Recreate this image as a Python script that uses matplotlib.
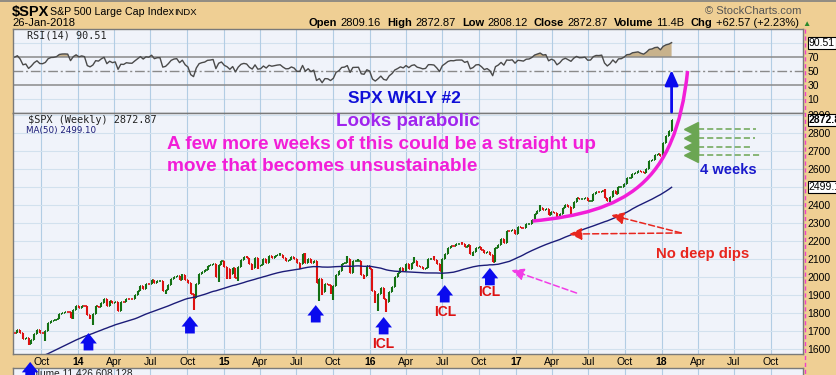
import numpy as np
import pandas as pd
import matplotlib
matplotlib.use("Agg")
import matplotlib.pyplot as plt
import matplotlib.dates as mdates
from matplotlib.path import Path
from matplotlib.patches import PathPatch
from matplotlib.lines import Line2D

plt.rcParams['font.family'] = ['Liberation Sans', 'DejaVu Sans']

# weekly closes before the visible window, only used to seed MA(50) and RSI(14)
warmup_closes = [1390.99, 1405.87, 1418.16, 1411.13, 1406.58, 1437.92, 1465.77, 1460.15, 1440.67,
                 1460.93, 1428.59, 1433.19, 1411.94, 1414.20, 1379.85, 1359.88, 1409.15, 1416.18,
                 1418.07, 1413.58, 1430.15, 1402.43, 1466.47, 1472.05, 1485.98, 1502.96, 1513.17,
                 1517.93, 1519.79, 1515.60, 1518.20, 1551.18, 1560.70, 1556.89, 1569.19, 1553.28,
                 1588.85, 1555.25, 1582.24, 1614.42, 1633.70, 1667.47, 1649.60, 1630.74, 1643.38,
                 1626.73, 1592.43, 1606.28, 1631.89, 1680.19, 1692.09]
first_week = '2012-08-03'

# visible weekly closes, 26-Jul-2013 .. 26-Jan-2018
closes_2013 = [1691.65, 1709.67, 1691.42, 1655.83, 1663.50, 1632.97, 1655.17, 1687.99, 1709.91,
               1691.75, 1690.50, 1703.20, 1744.50, 1759.77, 1761.64, 1770.61, 1798.18, 1804.76,
               1805.81, 1805.09, 1775.32, 1818.32, 1841.40]
closes_2014 = [1831.37, 1842.37, 1838.70, 1790.29, 1782.59, 1797.02, 1838.63, 1836.25, 1859.45,
               1878.04, 1841.13, 1866.52, 1857.62, 1865.09, 1815.69, 1864.85, 1863.40, 1881.14,
               1878.48, 1877.86, 1900.53, 1923.57, 1949.44, 1936.16, 1962.87, 1960.96, 1985.44,
               1967.57, 1978.22, 1978.34, 1925.15, 1931.59, 1955.06, 1988.40, 2003.37, 2007.71,
               1985.54, 2010.40, 1982.85, 1967.90, 1906.13, 1886.76, 1964.58, 2018.05, 2031.92,
               2039.82, 2063.50, 2067.56, 2075.37, 2002.33, 2070.65, 2088.77]
closes_2015 = [2058.20, 2044.81, 2019.42, 2051.82, 1994.99, 2055.47, 2096.99, 2110.30, 2104.50,
               2071.26, 2053.40, 2108.10, 2061.02, 2066.96, 2102.06, 2081.18, 2117.69, 2108.29,
               2116.10, 2122.73, 2126.06, 2107.39, 2092.83, 2094.11, 2109.99, 2101.49, 2076.78,
               2076.62, 2126.64, 2079.65, 2103.84, 2077.57, 2091.54, 1970.89, 1988.87, 1921.22,
               1961.05, 1958.03, 1931.34, 1951.36, 2014.89, 2033.11, 2075.15, 2079.36, 2099.20,
               2023.04, 2089.17, 2090.11, 2091.69, 2012.37, 2005.55, 2060.99, 2043.94]
closes_2016 = [1922.03, 1880.33, 1906.90, 1940.24, 1880.05, 1864.78, 1917.78, 1948.05, 1999.99,
               2022.19, 2049.58, 2035.94, 2072.78, 2047.60, 2080.73, 2091.58, 2065.30, 2057.14,
               2046.61, 2052.32, 2099.06, 2099.13, 2096.07, 2071.22, 2037.41, 2102.95, 2129.90,
               2161.74, 2175.03, 2173.60, 2182.87, 2184.05, 2183.87, 2169.04, 2179.98, 2127.81,
               2139.16, 2164.69, 2168.27, 2153.74, 2132.98, 2141.16, 2126.41, 2085.18, 2164.45,
               2181.90, 2213.35, 2191.95, 2259.53, 2258.07, 2263.79, 2238.83]
closes_2017 = [2276.98, 2274.64, 2271.31, 2294.69, 2297.42, 2316.10, 2351.16, 2367.34, 2383.12,
               2372.60, 2378.25, 2343.98, 2362.72, 2355.54, 2328.95, 2348.69, 2384.20, 2399.29,
               2390.90, 2381.73, 2415.82, 2439.07, 2431.77, 2433.15, 2438.30, 2423.41, 2425.18,
               2459.27, 2472.54, 2472.10, 2476.83, 2441.32, 2425.55, 2443.05, 2476.55, 2461.43,
               2500.23, 2502.22, 2519.36, 2549.33, 2553.17, 2575.21, 2581.07, 2587.84, 2582.30,
               2578.85, 2602.42, 2642.22, 2651.50, 2675.81, 2683.34, 2673.61]
closes_2018 = [2743.15, 2786.24, 2810.30, 2872.87]

# weeks whose intraweek low / high pokes out well beyond open and close
low_wick_weeks = ['2013-08-30', '2013-10-11', '2013-12-20', '2014-01-31', '2014-02-07', '2014-04-11',
                  '2014-08-08', '2014-10-10', '2014-10-17', '2014-12-19', '2015-01-09', '2015-01-16',
                  '2015-02-06', '2015-03-13', '2015-03-27', '2015-07-10', '2015-08-28', '2015-09-04',
                  '2015-09-25', '2015-10-02', '2015-12-18', '2016-01-15', '2016-01-22', '2016-02-12',
                  '2016-07-01', '2016-09-16', '2016-11-04', '2017-04-14', '2017-05-19', '2017-08-25']
low_wick_values = [1627, 1646, 1768, 1770, 1738, 1814, 1905, 1905, 1821, 1973, 1992, 1988,
                   1981, 2040, 2046, 2044, 1867, 1903, 1909, 1872, 1993, 1858, 1812, 1810,
                   1992, 2119, 2084, 2322, 2353, 2417]
high_wick_weeks = ['2014-09-19', '2015-02-27', '2015-05-22', '2015-07-24', '2015-11-06', '2015-12-04',
                   '2016-04-22', '2016-06-10', '2016-08-19', '2017-03-03', '2017-08-11']
high_wick_values = [2019, 2120, 2135, 2133, 2116, 2104, 2111, 2121, 2194, 2401, 2491]

quarter_ticks = pd.date_range('2013-10-01', '2018-10-01', freq='QS')
price_ticks = list(range(1600, 3000, 100))
rsi_ticks = [10, 30, 50, 70]

# annotation placements (date, value)
arrow_weeks = ['2014-01-27', '2014-10-08', '2015-08-19', '2016-02-05', '2016-07-07', '2016-10-28', '2013-09-03']
arrow_tips = [1691, 1785, 1846, 1780, 1957, 2052, 1531]
icl_weeks = ['2016-02-05', '2016-07-07', '2016-10-26']
icl_prices = [1631, 1808, 1919]
marker_prices = [2823, 2773, 2723, 2678]
marker_line_ends = ['2018-08-26', '2018-08-24', '2018-08-14', '2018-09-10']

BEIGE = '#EFCF94'
PANEL = '#F0F3FA'
HGRID = '#D2E1EE'
VGRID = '#B2CDE4'
SPINE = '#7A7A7A'
GREEN = '#137013'
RED = '#DD1111'
NAVY = '#1C1C78'
BLUE = '#0A0AEE'
MAGENTA = '#F21ED8'
PURPLE = '#A024EE'
OLIVE = '#6BA653'

W, H = 837, 375
fig = plt.figure(figsize=(W / 100, H / 100), dpi=100)
fig.patch.set_facecolor(BEIGE)


def fx(px):
    return px / W


def fy(py):
    return 1 - py / H


def dn(s):
    return mdates.date2num(pd.Timestamp(s))


# ---- indicators
weekly_closes = closes_2013 + closes_2014 + closes_2015 + closes_2016 + closes_2017 + closes_2018
all_closes = pd.Series(warmup_closes + weekly_closes,
                       index=pd.date_range(first_week, periods=len(warmup_closes) + len(weekly_closes), freq='W-FRI'))
ma50 = all_closes.rolling(50).mean()
delta = all_closes.diff()
gain = delta.clip(lower=0).ewm(alpha=1 / 14, adjust=False).mean()
loss = (-delta.clip(upper=0)).ewm(alpha=1 / 14, adjust=False).mean()
rsi = 100 - 100 / (1 + gain / loss)

n0 = len(warmup_closes)
close = all_closes.iloc[n0:]
opens = all_closes.shift(1).iloc[n0:]
high = np.maximum(opens, close)
low = np.minimum(opens, close)
for d, v in zip(low_wick_weeks, low_wick_values):
    low[pd.Timestamp(d)] = min(low[pd.Timestamp(d)], v)
for d, v in zip(high_wick_weeks, high_wick_values):
    high[pd.Timestamp(d)] = max(high[pd.Timestamp(d)], v)
xd = mdates.date2num(close.index)
xlim = (dn('2013-07-22'), dn('2018-12-21'))
tick_x = mdates.date2num(quarter_ticks)

# ---- panels
ax_rsi = fig.add_axes([fx(13), fy(113), fx(790), fy(29) - fy(113)], zorder=1)
ax = fig.add_axes([fx(13), fy(354), fx(790), fy(113) - fy(354)], zorder=3)
ax_vol = fig.add_axes([fx(13), fy(400), fx(790), fy(368) - fy(400)], zorder=1)

for a in (ax_rsi, ax, ax_vol):
    a.set_facecolor(PANEL)
    a.set_xlim(*xlim)
    a.set_xticks(tick_x)
    a.grid(axis='x', color=VGRID, lw=0.8)
    a.set_axisbelow(True)
    for s in a.spines.values():
        s.set_color(SPINE)
        s.set_linewidth(1)

# RSI panel
ax_rsi.set_ylim(-10, 110)
ax_rsi.set_yticks(rsi_ticks)
ax_rsi.yaxis.tick_right()
ax_rsi.tick_params(axis='y', length=0, pad=3, labelsize=7.5)
ax_rsi.tick_params(axis='x', length=0, labelbottom=False)
for lv in (90, 10):
    ax_rsi.axhline(lv, color=HGRID, lw=0.8, zorder=0.5)
for lv in (70, 30):
    ax_rsi.axhline(lv, color='#8A8A8A', lw=1.1)
ax_rsi.axhline(50, color='#8A8A8A', lw=1, ls=(0, (7, 2, 1.5, 2)))
rsi_vis = rsi.iloc[n0:].values
ax_rsi.fill_between(xd, 70, rsi_vis, where=rsi_vis >= 70, interpolate=True, color='#C8B28C', lw=0)
ax_rsi.plot(xd, rsi_vis, color='#4A4A4A', lw=1)
ax_rsi.annotate('90.51', xy=(1, rsi_vis[-1]), xycoords=('axes fraction', 'data'), xytext=(4, 0),
                textcoords='offset points', va='center', ha='left', fontsize=7.5,
                bbox=dict(boxstyle='square,pad=0.1', fc='white', ec='black', lw=0.8), annotation_clip=False)
fig.text(fx(27), fy(36), 'RSI(14) 90.51', family='DejaVu Sans Mono', fontsize=7.3, va='center', color='#222222')

# price panel
ax.set_ylim(1575, 2911)
ax.set_yticks(price_ticks)
ax.grid(axis='y', color=HGRID, lw=0.8)
ax.yaxis.tick_right()
ax.tick_params(axis='y', length=0, pad=3, labelsize=7.5)
ax.tick_params(axis='x', length=0, pad=2.5, labelsize=7.5)
ax.set_xticklabels([t.strftime('%y') if t.month == 1 else t.strftime('%b') for t in quarter_ticks])
for lbl, t in zip(ax.get_xticklabels(), quarter_ticks):
    if t.month == 1:
        lbl.set_fontweight('bold')

bar_col = np.where(close.values >= opens.values, GREEN, RED)
ax.vlines(xd, low.values, high.values, colors=bar_col, lw=1.5)
ax.hlines(opens.values, xd - 2.6, xd, colors=bar_col, lw=1.2)
ax.hlines(close.values, xd, xd + 2.6, colors=bar_col, lw=1.2)
ax.plot(xd, ma50.iloc[n0:].values, color=NAVY, lw=1)

box = dict(boxstyle='square,pad=0.1', fc='white', ec='black', lw=0.8)
ax.annotate('2872.87', xy=(1, close.values[-1]), xycoords=('axes fraction', 'data'), xytext=(4, 0),
            textcoords='offset points', va='center', ha='left', fontsize=7.5, fontweight='bold',
            bbox=box, annotation_clip=False)
ax.annotate('2499.10', xy=(1, ma50.values[-1]), xycoords=('axes fraction', 'data'), xytext=(4, 0),
            textcoords='offset points', va='center', ha='left', fontsize=7.5,
            bbox=box, annotation_clip=False)

fig.text(fx(28), fy(120), '$SPX (Weekly) 2872.87', family='DejaVu Sans Mono', fontsize=7.4,
         va='center', color='#222222')
fig.add_artist(Line2D([fx(16), fx(24)], [fy(131), fy(131)], color=NAVY, lw=2))
fig.text(fx(26), fy(131), 'MA(50) 2499.10', family='DejaVu Sans', fontsize=6.3, va='center', color=NAVY)

# volume panel (mostly cut off)
ax_vol.set_yticks([])
ax_vol.tick_params(axis='x', length=0, labelbottom=False)
fig.text(fx(26), fy(368.5), 'Volume 11,426,608,128', fontsize=7.3, va='top', color='#222222', zorder=2)

# ---- annotations
for d, p in zip(arrow_weeks, arrow_tips):
    ax.annotate('', xy=(dn(d), p), xytext=(0, -12.5), textcoords='offset points',
                arrowprops=dict(arrowstyle='simple,head_length=0.75,head_width=1.2,tail_width=0.7',
                                fc=BLUE, ec='none', shrinkA=0, shrinkB=0, mutation_scale=10),
                annotation_clip=False)
for d, p in zip(icl_weeks, icl_prices):
    ax.text(dn(d), p, 'ICL', color=RED, fontsize=10, fontweight='bold', ha='center', va='center')

ax.annotate('', xy=(xd[-1], 3149), xytext=(xd[-1], 2916),
            arrowprops=dict(arrowstyle='-|>,head_length=0.9,head_width=0.4', color=BLUE, lw=2,
                            shrinkA=0, shrinkB=0, mutation_scale=10), annotation_clip=False)

arc = Path([(dn('2017-02-12'), 2312), (dn('2017-09-30'), 2362), (dn('2018-02-05'), 2512), (dn('2018-03-07'), 3144)],
           [Path.MOVETO, Path.CURVE4, Path.CURVE4, Path.CURVE4])
ax.add_patch(PathPatch(arc, fc='none', ec=MAGENTA, lw=2.5, clip_on=False, zorder=4))

ax.plot([dn('2018-03-16')] * len(marker_prices), marker_prices, ls='none', marker='<', ms=10,
        color=OLIVE, clip_on=False, zorder=4)
for p, e in zip(marker_prices, marker_line_ends):
    ax.plot([dn('2018-04-01'), dn(e)], [p, p], color=OLIVE, lw=1.1, ls=(0, (4, 2)))

red_arrow = dict(arrowstyle='-|>,head_length=0.75,head_width=0.36', color='#E8261E', lw=1.1,
                 ls=(0, (4, 2)), shrinkA=0, shrinkB=0, mutation_scale=10)
ax.annotate('', xy=(dn('2017-08-28'), 2345), xytext=(dn('2018-02-19'), 2246), arrowprops=red_arrow)
ax.annotate('', xy=(dn('2017-05-15'), 2240), xytext=(dn('2018-02-19'), 2246), arrowprops=red_arrow)
ax.annotate('', xy=(dn('2016-12-21'), 2040), xytext=(dn('2017-06-02'), 1913),
            arrowprops=dict(red_arrow, color='#F23CE6'))

ax.text(dn('2018-04-13'), 2129, 'No deep dips', color='#E8261E', fontsize=10.7, fontweight='bold',
        ha='center', va='center')
ax.text(dn('2018-06-18'), 2595, '4 weeks', color='#1A1ACC', fontsize=10.5, fontweight='bold',
        ha='center', va='center')
ax.text(dn('2016-03-29'), 2994, 'SPX WKLY #2', color='#0F0FD8', fontsize=12.5, fontweight='bold',
        ha='center', va='center')
ax.text(dn('2016-04-05'), 2866, 'Looks parabolic', color=PURPLE, fontsize=13.5, fontweight='bold',
        ha='center', va='center')
ax.text(dn('2014-08-11'), 2739, 'A few more weeks of this could be a straight up', color=MAGENTA,
        fontsize=13.7, fontweight='bold', ha='left', va='center')
ax.text(dn('2014-08-11'), 2617, 'move that becomes unsustainable', color=MAGENTA,
        fontsize=13.7, fontweight='bold', ha='left', va='center')

# dashed vertical marker at the right edge
fig.add_artist(Line2D([fx(805), fx(805)], [fy(29), fy(375)], color='#F040C8', lw=1, ls=(0, (3, 2)), zorder=5))

# ---- header
fig.add_artist(Line2D([0, 1], [fy(0.5), fy(0.5)], color='#808080', lw=1.2))
fig.text(fx(12), fy(16), '$SPX', fontsize=10.5, fontweight='bold', va='baseline')
fig.text(fx(50), fy(15), 'S&P 500 Large Cap Index', fontsize=7.7, va='baseline')
fig.text(fx(174), fy(15), 'INDX', fontsize=6.8, va='baseline')
fig.text(fx(12), fy(26), '26-Jan-2018', fontsize=8, va='baseline')
fig.text(fx(801), fy(14), '\u00a9 StockCharts.com', fontsize=8, color='#555555', ha='right', va='baseline')

renderer = fig.canvas.get_renderer()
pieces = [('Open', True), ('2809.16', False), ('High', True), ('2872.87', False), ('Low', True),
          ('2808.12', False), ('Close', True), ('2872.87', False), ('Volume', True), ('11.4B', False),
          ('Chg', True), ('+62.57 (+2.23%)', False)]
xpos = 309
for s, bold in pieces:
    t = fig.text(fx(xpos), fy(26), s, fontsize=8.0, fontweight='bold' if bold else 'normal', va='baseline')
    xpos += t.get_window_extent(renderer).width + (3 if bold else 6.5)
fig.text(fx(xpos - 3), fy(26), '\u25b2', fontsize=6, color='#2A8A2A', va='baseline')

fig.savefig('out.png', dpi=100, facecolor=BEIGE)
